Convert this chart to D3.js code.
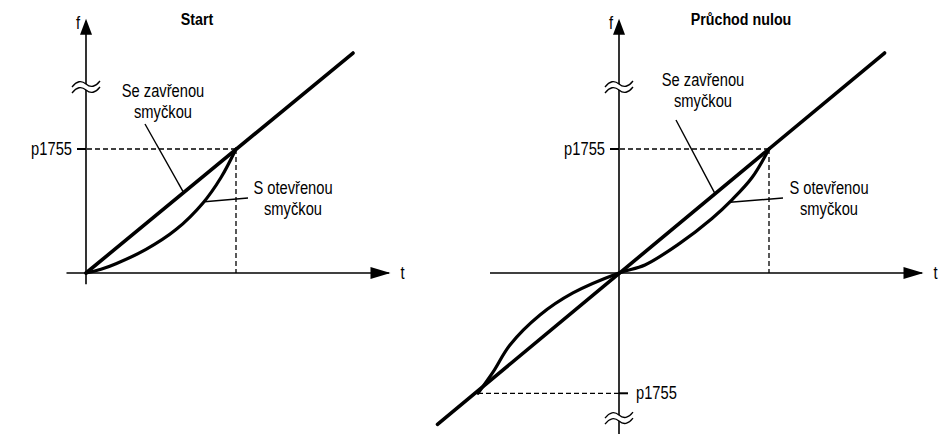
<!DOCTYPE html>
<html>
<head>
<meta charset="utf-8">
<style>
  body{margin:0;background:#fff;}
  svg text{font-family:"Liberation Sans Narrow","Liberation Sans",Arial,sans-serif;font-size:17.5px;fill:#000;}
  .title{font-weight:bold;font-size:17px;}
</style>
<script src="https://cdn.jsdelivr.net/npm/d3@7"></script>
</head>
<body>
<svg id="chart" width="939" height="434"></svg>
<script>
// titles of the two panels
var titles = ["Start", "Průchod nulou"];
var refLabel = "p1755";
var closedLabel = ["Se zavřenou", "smyčkou"];
var openLabel = ["S otevřenou", "smyčkou"];

// values in units of p1755 (t, f)
var closedStart = [[0, 0], [1.78, 1.774]];
var openStart = [[0, 0], [0.1, 0.03], [0.2, 0.075], [0.4, 0.19], [0.6, 0.35], [0.78, 0.565], [0.9, 0.77], [1, 1]];
var closedZero = [[-1.21, -1.22], [1.77, 1.774]];
var openZero = [[-0.94, -0.97], [-0.84, -0.80], [-0.727, -0.581], [-0.527, -0.339], [-0.307, -0.161], [0, 0],
                [0.173, 0.065], [0.40, 0.235], [0.62, 0.44], [0.753, 0.59], [0.887, 0.77], [1, 1]];
var refPoints = [[1, 1]];
var refPointsZero = [[1, 1], [-0.94, -0.97]];

var svg = d3.select("#chart");

// narrow look: plain font squeezed horizontally
function txt(g, x, y, s, anchor, cls){
  return g.append("text").attr("transform", "translate(" + x + "," + y + ") scale(0.84,1)")
    .attr("text-anchor", anchor || "start").attr("class", cls || null).text(s);
}

function panel(o){
  var x = d3.scaleLinear().domain([0, 1]).range([o.x0, o.x0 + 150]);
  var y = d3.scaleLinear().domain([0, 1]).range([273, 149]);
  var g = svg.append("g");
  var line = d3.line().x(function(d){return x(d[0]);}).y(function(d){return y(d[1]);});

  // axes
  g.append("line").attr("x1", x(o.tMin)).attr("x2", x(2.02)).attr("y1", y(0)).attr("y2", y(0))
    .attr("stroke", "#000").attr("stroke-width", 1.6);
  g.append("line").attr("x1", x(0)).attr("x2", x(0)).attr("y1", y(o.fMin)).attr("y2", y(2.03))
    .attr("stroke", "#000").attr("stroke-width", 1.6);
  // arrow heads
  var xt = x(2.03), yt = y(0);
  g.append("path").attr("d", "M" + xt + "," + yt + "L" + (xt - 20) + "," + (yt - 6) + "L" + (xt - 20) + "," + (yt + 6) + "Z");
  var ax = x(0), ay = y(2.05);
  g.append("path").attr("d", "M" + ax + "," + ay + "L" + (ax - 6) + "," + (ay + 16) + "L" + (ax + 6) + "," + (ay + 16) + "Z");
  txt(g, xt + 10, yt + 6, "t");
  txt(g, ax - 10, ay + 10, "f");

  // axis breaks
  o.breaks.forEach(function(b){ axisBreak(g, x(0), y(b)); });

  // reference dashed lines + ticks
  o.refs.forEach(function(r){
    var px = x(r[0]), py = y(r[1]);
    g.append("line").attr("x1", px).attr("x2", x(0)).attr("y1", py).attr("y2", py)
      .attr("stroke", "#000").attr("stroke-width", 1.3).attr("stroke-dasharray", "5,3");
    if(r[1] > 0){
      g.append("line").attr("x1", px).attr("x2", px).attr("y1", py).attr("y2", y(0))
        .attr("stroke", "#000").attr("stroke-width", 1.3).attr("stroke-dasharray", "5,3");
      g.append("line").attr("x1", x(0) - 9).attr("x2", x(0)).attr("y1", py).attr("y2", py)
        .attr("stroke", "#000").attr("stroke-width", 2);
      txt(g, x(0) - 14, py + 6, refLabel, "end");
    } else {
      g.append("line").attr("x1", x(0)).attr("x2", x(0) + 9).attr("y1", py).attr("y2", py)
        .attr("stroke", "#000").attr("stroke-width", 2);
      txt(g, x(0) + 17, py + 6, refLabel);
    }
  });

  // curves
  g.append("path").attr("d", line(o.closed)).attr("fill", "none").attr("stroke", "#000")
    .attr("stroke-width", 3.6).attr("stroke-linecap", "round");
  g.append("path").attr("d", line.curve(d3.curveCatmullRom)(o.open)).attr("fill", "none").attr("stroke", "#000")
    .attr("stroke-width", 3.2).attr("stroke-linecap", "round");

  // labels + leaders
  txt(g, o.titleX, 25, o.title, "middle", "title");
  var c = o.closedTxt;
  txt(g, c[0], c[1], closedLabel[0], "middle");
  txt(g, c[0], c[1] + 21, closedLabel[1], "middle");
  g.append("line").attr("x1", c[2]).attr("y1", c[3]).attr("x2", x(o.closedLead)).attr("y2", y(o.closedLead))
    .attr("stroke", "#000").attr("stroke-width", 1.4);
  var p = o.openTxt;
  txt(g, p[0], p[1], openLabel[0], "middle");
  txt(g, p[0], p[1] + 21, openLabel[1], "middle");
  g.append("line").attr("x1", x(o.openLead[0])).attr("y1", y(o.openLead[1])).attr("x2", p[2]).attr("y2", p[3])
    .attr("stroke", "#000").attr("stroke-width", 1.4);
}

function axisBreak(g, cx, cy){
  function wave(dy){
    return "M" + (cx - 14) + "," + (cy + dy + 3) + "Q" + (cx - 7) + "," + (cy + dy - 6) + " " + cx + "," + (cy + dy) +
           "T" + (cx + 14) + "," + (cy + dy - 3);
  }
  g.append("rect").attr("x", cx - 3).attr("y", cy - 3).attr("width", 6).attr("height", 6).attr("fill", "#fff");
  g.append("path").attr("d", wave(-3)).attr("fill", "none").attr("stroke", "#000").attr("stroke-width", 1.3);
  g.append("path").attr("d", wave(3)).attr("fill", "none").attr("stroke", "#000").attr("stroke-width", 1.3);
}

panel({x0: 86, tMin: -0.13, fMin: -0.09, title: titles[0], titleX: 197, breaks: [1.5], refs: refPoints,
       closed: closedStart, open: openStart, closedTxt: [163, 97, 145, 124], closedLead: 0.65,
       openTxt: [293, 194, 248, 198], openLead: [0.79, 0.575]});
panel({x0: 619, tMin: -0.86, fMin: -1.30, title: titles[1], titleX: 741, breaks: [1.5, -1.17], refs: refPointsZero,
       closed: closedZero, open: openZero, closedTxt: [703, 86, 676, 120], closedLead: 0.64,
       openTxt: [829, 194, 783, 198], openLead: [0.74, 0.57]});
</script>
</body>
</html>
